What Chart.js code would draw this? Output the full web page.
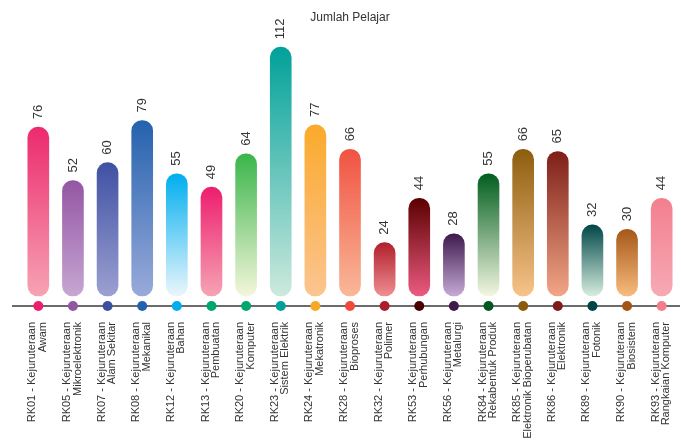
<!DOCTYPE html>
<html>
<head>
<meta charset="utf-8">
<script src="https://cdn.jsdelivr.net/npm/chart.js@4.4.0/dist/chart.umd.min.js"></script>
<style>
  html, body { margin: 0; padding: 0; background: #fff; }
  #wrap { width: 681px; height: 443px; }
</style>
</head>
<body>
<div id="wrap"><canvas id="c" width="681" height="443"></canvas></div>
<script>
const categories = [
  ["RK01 - Kejuruteraan", "Awam"],
  ["RK05 - Kejuruteraan", "Mikroelektronik"],
  ["RK07 - Kejuruteraan", "Alam Sekitar"],
  ["RK08 - Kejuruteraan", "Mekanikal"],
  ["RK12 - Kejuruteraan", "Bahan"],
  ["RK13 - Kejuruteraan", "Pembuatan"],
  ["RK20 - Kejuruteraan", "Komputer"],
  ["RK23 - Kejuruteraan", "Sistem Elektrik"],
  ["RK24 - Kejuruteraan", "Mekatronik"],
  ["RK28 - Kejuruteraan", "Bioproses"],
  ["RK32 - Kejuruteraan", "Polimer"],
  ["RK53 - Kejuruteraan", "Perhubungan"],
  ["RK56 - Kejuruteraan", "Metalurgi"],
  ["RK84 - Kejuruteraan", "Rekabentuk Produk"],
  ["RK85 - Kejuruteraan", "Elektronik Bioperubatan"],
  ["RK86 - Kejuruteraan", "Elektronik"],
  ["RK89 - Kejuruteraan", "Fotonik"],
  ["RK90 - Kejuruteraan", "Biosistem"],
  ["RK93 - Kejuruteraan", "Rangkaian Komputer"]
];
const jumlahPelajar = [76, 52, 60, 79, 55, 49, 64, 112, 77, 66, 24, 44, 28, 55, 66, 65, 32, 30, 44];
const topColors = ["#EC2A6E","#9456A4","#3F51A3","#2462AE","#00AEEF","#ED1E6E","#3AB54A","#00A19A","#FAAA2B","#F05342","#B1202B","#5B0000","#3E1A4D","#025E20","#8D5E0E","#7E1F18","#014748","#A65919","#F37F8E"];
const bottomColors = ["#F6A3B3","#C6A6D2","#9CA0D1","#99AADA","#EAF6FC","#F6A3B3","#F4F6DA","#CDE9DD","#FCC490","#F9B898","#EF8D92","#EB5A80","#C6A9D5","#F3F6E0","#F7C389","#F2A686","#D6EDDF","#F7BB7E","#F7A9B6"];
const dotColors = ["#EC1E6E","#9256A3","#3D4FA0","#2263AE","#00AEEF","#00A66F","#00A66F","#00A19A","#F9A825","#EF4B3D","#A91E2A","#4B0000","#3F1A4A","#00571F","#8C5C0E","#7D1C18","#004646","#A35516","#F37D8B"];

const decorPlugin = {
  id: 'decor',
  beforeDatasetsDraw(chart) {
    const ctx = chart.ctx, a = chart.chartArea;
    ctx.save();
    ctx.strokeStyle = '#6b6b6b';
    ctx.lineWidth = 2;
    ctx.beginPath();
    ctx.moveTo(a.left - 9, a.bottom);
    ctx.lineTo(a.right + 1, a.bottom);
    ctx.stroke();
    ctx.restore();
  },
  afterDatasetsDraw(chart) {
    const ctx = chart.ctx, a = chart.chartArea;
    const xs = chart.scales.x;
    ctx.save();
    dotColors.forEach((c, i) => {
      ctx.fillStyle = c;
      ctx.beginPath();
      ctx.arc(xs.getPixelForValue(i), a.bottom, 5, 0, Math.PI * 2);
      ctx.fill();
    });
    const meta = chart.getDatasetMeta(0);
    ctx.fillStyle = '#333';
    ctx.font = '13px "Liberation Sans", Arial, sans-serif';
    ctx.textAlign = 'left';
    ctx.textBaseline = 'middle';
    meta.data.forEach((bar, i) => {
      ctx.save();
      ctx.translate(bar.x, bar.y - 8);
      ctx.rotate(-Math.PI / 2);
      ctx.fillText(String(jumlahPelajar[i]), 0, 0);
      ctx.restore();
    });
    ctx.restore();
  }
};

new Chart(document.getElementById('c'), {
  type: 'bar',
  data: {
    labels: categories,
    datasets: [{
      label: 'Jumlah Pelajar',
      data: jumlahPelajar,
      barThickness: 21,
      borderRadius: 11,
      borderSkipped: false,
      backgroundColor(context) {
        const chart = context.chart;
        const ys = chart.scales.y;
        if (!ys || context.dataIndex === undefined) return topColors[0];
        const i = context.dataIndex;
        const y0 = ys.getPixelForValue(jumlahPelajar[i]);
        const y1 = ys.getPixelForValue(0);
        if (!isFinite(y0) || !isFinite(y1)) return topColors[i];
        const g = chart.ctx.createLinearGradient(0, y0, 0, y1);
        g.addColorStop(0, topColors[i]);
        g.addColorStop(1, bottomColors[i]);
        return g;
      }
    }]
  },
  options: {
    responsive: false,
    animation: false,
    layout: { padding: { left: 21, right: 2, top: 0, bottom: 0 } },
    plugins: {
      legend: { display: false },
      tooltip: { enabled: false },
      title: {
        display: true,
        text: 'Jumlah Pelajar',
        color: '#333',
        font: { family: '"Liberation Sans", Arial, sans-serif', size: 12, weight: 'normal' },
        padding: { top: 10, bottom: 5 }
      }
    },
    scales: {
      y: {
        display: false,
        min: -4.5,
        max: 120
      },
      x: {
        grid: { display: false, drawTicks: false },
        border: { display: false },
        ticks: {
          color: '#333',
          font: { family: '"Liberation Sans", Arial, sans-serif', size: 11, lineHeight: 0.96 },
          minRotation: 90,
          maxRotation: 90,
          padding: 16,
          labelOffset: -6,
          autoSkip: false
        },
        afterFit(scale) {
          scale.height = 137;
          scale.paddingLeft = 0;
          scale.paddingRight = 0;
        }
      }
    }
  },
  plugins: [decorPlugin]
});
</script>
</body>
</html>
